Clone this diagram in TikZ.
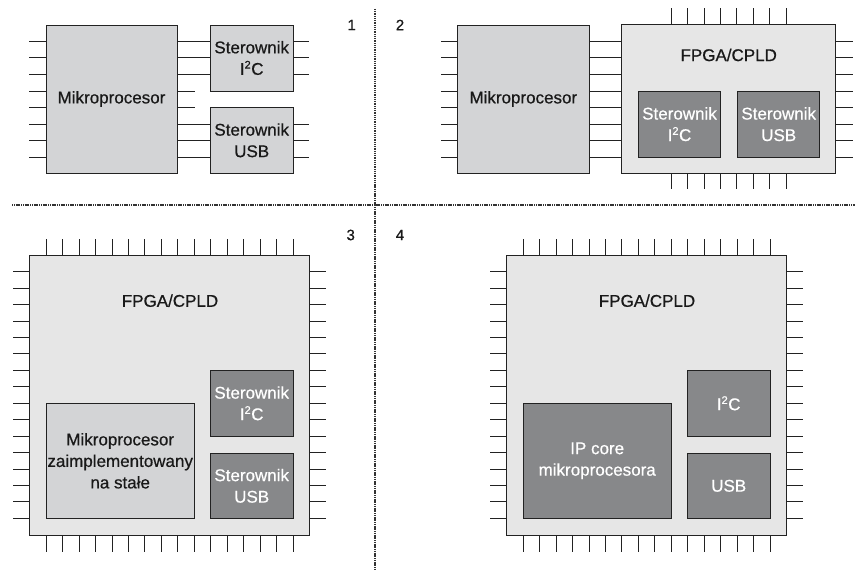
\documentclass[tikz,border=0pt]{standalone}
\usepackage{fontspec}
\setmainfont{Liberation Sans}[BoldFont=Liberation Sans, BoldFeatures={FakeBold=0.6}]
\definecolor{microgray}{HTML}{D3D4D6}
\definecolor{fpgagray}{HTML}{E6E6E6}
\definecolor{darkbox}{HTML}{87888A}
\definecolor{edge}{HTML}{222222}
\newcommand{\txtfont}{\fontsize{17}{21.5}\selectfont\bfseries}
\newcommand{\itwoc}{I\textsuperscript{\fontsize{11}{11}\selectfont 2}C}
\tikzset{
  lbl/.style={font=\txtfont, align=center, inner sep=0pt, text=black!90},
  boxbase/.style={draw=edge, line width=0.9pt, inner sep=0pt, outer sep=0pt, align=center, font=\txtfont},
  microbox/.style={boxbase, fill=microgray, text=black!90},
  fpgabox/.style={boxbase, fill=fpgagray},
  darkunit/.style={boxbase, fill=darkbox, text=white},
  pin/.style={draw=edge, line width=0.9pt},
  sep/.style={draw=black!80, line width=1.3pt, dash pattern=on 1.1pt off 0.7pt},
  num/.style={font=\fontsize{15}{16}\selectfont\bfseries, inner sep=0pt, text=black!90}
}
\begin{document}
\begin{tikzpicture}[x=1pt,y=-1pt]
\useasboundingbox (0,0) rectangle (864,575);
\fill[white] (0,0) rectangle (864,575);

% separators
\coordinate (vt) at (375,9);
\coordinate (vb) at (375,570);
\coordinate (hl) at (12,205);
\coordinate (hr) at (855,205);
\draw[sep] (vt) -- (vb);
\draw[sep] (hl) -- (hr);

\node[num] (n1) at (351.7,25) {1};
\node[num] (n2) at (400,25) {2};
\node[num] (n3) at (350.7,235) {3};
\node[num] (n4) at (400,235) {4};

% ---------- Quadrant 1 ----------
\node[microbox, minimum width=131, minimum height=148] (m1) at (111.5,99) {Mikroprocesor};
\node[microbox, minimum width=83.3, minimum height=66] (i1) at (251.7,58) {Sterownik\\\itwoc};
\node[microbox, minimum width=83.3, minimum height=66] (u1) at (251.7,140.3) {Sterownik\\USB};
\foreach \i in {0,...,7}{
  \pgfmathsetmacro\yy{41.3+16.57*\i}
  \draw[pin] (m1.west |- 0,\yy) -- ++(-17,0);
}
\foreach \i in {0,1,2}{
  \pgfmathsetmacro\yy{41.3+16.57*\i}
  \draw[pin] (m1.east |- 0,\yy) -- (i1.west |- 0,\yy);
  \draw[pin] (i1.east |- 0,\yy) -- ++(16,0);
}
\foreach \i in {3,4}{
  \pgfmathsetmacro\yy{41.3+16.57*\i}
  \draw[pin] (m1.east |- 0,\yy) -- ++(17.7,0);
}
\foreach \i in {5,6,7}{
  \pgfmathsetmacro\yy{41.3+16.57*\i}
  \draw[pin] (m1.east |- 0,\yy) -- (u1.west |- 0,\yy);
  \draw[pin] (u1.east |- 0,\yy) -- ++(16,0);
}

% ---------- Quadrant 2 ----------
\node[microbox, minimum width=132.7, minimum height=148] (m2) at (523.3,99) {Mikroprocesor};
\node[fpgabox, minimum width=214, minimum height=148.3] (f2) at (728.3,99.1) {};
\node[lbl] (t2) at (728.7,55) {FPGA/CPLD};
\node[darkunit, minimum width=81.6, minimum height=66.3] (i2) at (679.5,124.2) {Sterownik\\\itwoc};
\node[darkunit, minimum width=82, minimum height=66.3] (u2) at (778.7,124.2) {Sterownik\\USB};
\foreach \i in {0,...,7}{
  \pgfmathsetmacro\yy{41.3+16.57*\i}
  \draw[pin] (m2.west |- 0,\yy) -- ++(-16,0);
  \draw[pin] (m2.east |- 0,\yy) -- (f2.west |- 0,\yy);
  \draw[pin] (f2.east |- 0,\yy) -- ++(17.4,0);
  \pgfmathsetmacro\xx{671.3+16.39*\i}
  \draw[pin] (f2.north -| \xx,0) -- ++(0,-16.7);
  \draw[pin] (f2.south -| \xx,0) -- ++(0,16);
}

% ---------- Quadrant 3 ----------
\node[fpgabox, minimum width=280, minimum height=280] (f3) at (169.3,395) {};
\node[lbl] (t3) at (170,300.7) {FPGA/CPLD};
\node[microbox, minimum width=148.3, minimum height=115] (m3) at (120.2,460.8) {Mikroprocesor\\zaimplementowany\\na stałe};
\node[darkunit, minimum width=83.3, minimum height=66] (i3) at (251.7,403.3) {Sterownik\\\itwoc};
\node[darkunit, minimum width=83.3, minimum height=65] (u3) at (251.7,485.8) {Sterownik\\USB};
\foreach \i in {0,...,15}{
  \pgfmathsetmacro\xx{46+16.49*\i}
  \pgfmathsetmacro\yy{271.7+16.44*\i}
  \draw[pin] (f3.north -| \xx,0) -- ++(0,-15.7);
  \draw[pin] (f3.south -| \xx,0) -- ++(0,16.7);
  \draw[pin] (f3.west |- 0,\yy) -- ++(-16,0);
  \draw[pin] (f3.east |- 0,\yy) -- ++(16.7,0);
}

% ---------- Quadrant 4 ----------
\node[fpgabox, minimum width=280, minimum height=280] (f4) at (646.3,395) {};
\node[lbl] (t4) at (647,300.7) {FPGA/CPLD};
\node[darkunit, minimum width=148.3, minimum height=115] (ip4) at (597.2,460.8) {IP core\\mikroprocesora};
\node[darkunit, minimum width=83.3, minimum height=66] (i4) at (728.7,403.3) {\itwoc};
\node[darkunit, minimum width=83.3, minimum height=65] (u4) at (728.7,485.8) {USB};
\foreach \i in {0,...,15}{
  \pgfmathsetmacro\xx{523+16.49*\i}
  \pgfmathsetmacro\yy{271.7+16.44*\i}
  \draw[pin] (f4.north -| \xx,0) -- ++(0,-15.7);
  \draw[pin] (f4.south -| \xx,0) -- ++(0,16.7);
  \draw[pin] (f4.west |- 0,\yy) -- ++(-16,0);
  \draw[pin] (f4.east |- 0,\yy) -- ++(16.7,0);
}
\end{tikzpicture}
\end{document}
